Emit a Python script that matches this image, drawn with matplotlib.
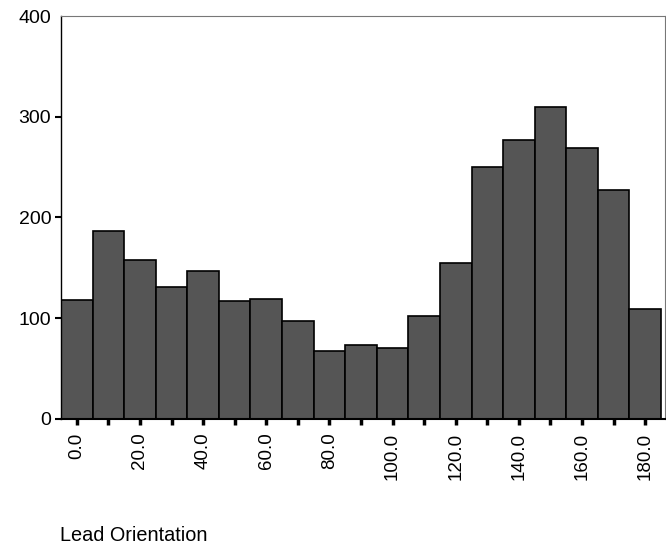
import matplotlib
matplotlib.use("Agg")
import matplotlib.pyplot as plt
import numpy as np

plt.rcParams['font.family'] = ['Liberation Sans', 'DejaVu Sans']

bin_centers = [0, 10, 20, 30, 40, 50, 60, 70, 80, 90, 100, 110, 120, 130, 140, 150, 160, 170, 180]
counts = [118, 186, 158, 131, 147, 117, 119, 97, 67, 73, 70, 102, 155, 250, 277, 310, 269, 227, 109]
xtick_major = [0, 20, 40, 60, 80, 100, 120, 140, 160, 180]
xtick_labels = ["0.0", "20.0", "40.0", "60.0", "80.0", "100.0", "120.0", "140.0", "160.0", "180.0"]
xtick_minor = [10, 30, 50, 70, 90, 110, 130, 150, 170]
ytick_vals = [0, 100, 200, 300, 400]
xlabel = "Lead Orientation"

fig = plt.figure(figsize=(6.66, 5.52), dpi=100)
ax = fig.add_axes([0.0916, 0.2415, 0.907, 0.7295])

ax.bar(bin_centers, counts, width=10, color='#555555', edgecolor='black', linewidth=1.2, zorder=2)

ax.set_xlim(-5, 186.3)
ax.set_ylim(0, 400)

ax.set_xticks(xtick_major)
ax.set_xticklabels(xtick_labels, rotation=90, fontsize=13.5)
ax.set_xticks(xtick_minor, minor=True)
ax.tick_params(axis='x', which='both', direction='out', length=4, width=2.5, pad=6, color='black')
ax.set_yticks(ytick_vals)
ax.set_yticklabels([str(v) for v in ytick_vals], fontsize=14)
ax.tick_params(axis='y', direction='out', length=4, width=1.5, pad=3)
ax.yaxis.get_major_ticks()[-1].tick1line.set_visible(False)

for s in ['top', 'right']:
    ax.spines[s].set_color('#777777')
    ax.spines[s].set_linewidth(0.8)
ax.spines['left'].set_color('black')
ax.spines['left'].set_linewidth(1.0)
ax.spines['bottom'].set_color('black')
ax.spines['bottom'].set_linewidth(1.5)

fig.text(60/666, 1 - 541/552, xlabel, fontsize=14.3, ha='left', va='baseline')

fig.savefig("out.png", dpi=100)
